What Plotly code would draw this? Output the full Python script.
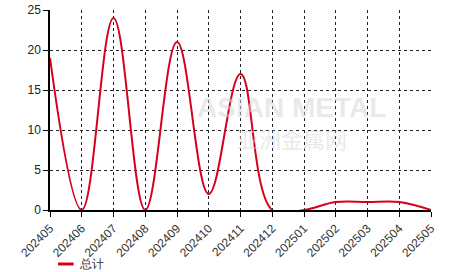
import plotly.graph_objects as go

months = ["202405", "202406", "202407", "202408", "202409", "202410", "202411",
          "202412", "202501", "202502", "202503", "202504", "202505"]
total = [19, 0, 24, 0, 21, 2, 17, 0, 0, 1, 1, 1, 0]
series_name = "总计"
y_ticks = [0, 5, 10, 15, 20, 25]
line_color = "#d6001c"

fig = go.Figure()
fig.add_trace(go.Scatter(
    x=months, y=total, mode="lines", name=series_name, showlegend=False,
    line=dict(color=line_color, width=2, shape="spline", smoothing=1.1),
))

# watermark
fig.add_annotation(text="<b>ASIAN METAL</b>", xref="paper", yref="paper", x=0.635, y=0.515,
                   showarrow=False, font=dict(size=28, color="rgba(215,215,215,0.55)",
                                              family="Liberation Sans"))
fig.add_annotation(text="亚洲金属网", xref="paper", yref="paper", x=0.635, y=0.36,
                   showarrow=False, font=dict(size=22, color="rgba(215,215,215,0.55)",
                                              family="Noto Sans CJK SC"))

# legend key, placed low enough not to touch the rotated tick labels
fig.add_shape(type="line", xref="paper", yref="paper", x0=0.021, x1=0.062,
              y0=-0.27, y1=-0.27, line=dict(color=line_color, width=3))
fig.add_annotation(text=series_name, xref="paper", yref="paper", x=0.072, y=-0.27,
                   xanchor="left", yanchor="middle", showarrow=False,
                   font=dict(size=12, color="#333"))

fig.update_layout(
    width=466, height=272,
    margin=dict(l=50, r=35, t=10, b=62, autoexpand=False),
    paper_bgcolor="white", plot_bgcolor="white",
    font=dict(family="Liberation Sans, Arial", size=12, color="#222"),
    showlegend=False,
    xaxis=dict(
        type="category", range=[0, 12], tickangle=-45, automargin=False,
        showgrid=True, gridcolor="#222", griddash="dot", gridwidth=1,
        showline=True, linecolor="black", linewidth=1.5,
        ticks="outside", ticklen=5, tickcolor="black",
        tickfont=dict(size=12, color="#333"), zeroline=False,
    ),
    yaxis=dict(
        range=[0, 25], tickvals=y_ticks, automargin=False,
        showgrid=True, gridcolor="#222", griddash="dot", gridwidth=1,
        showline=True, linecolor="black", linewidth=1.5,
        ticks="outside", ticklen=5, tickcolor="black",
        tickfont=dict(size=12, color="#222"), zeroline=False,
    ),
)

fig.write_html("out.html")
